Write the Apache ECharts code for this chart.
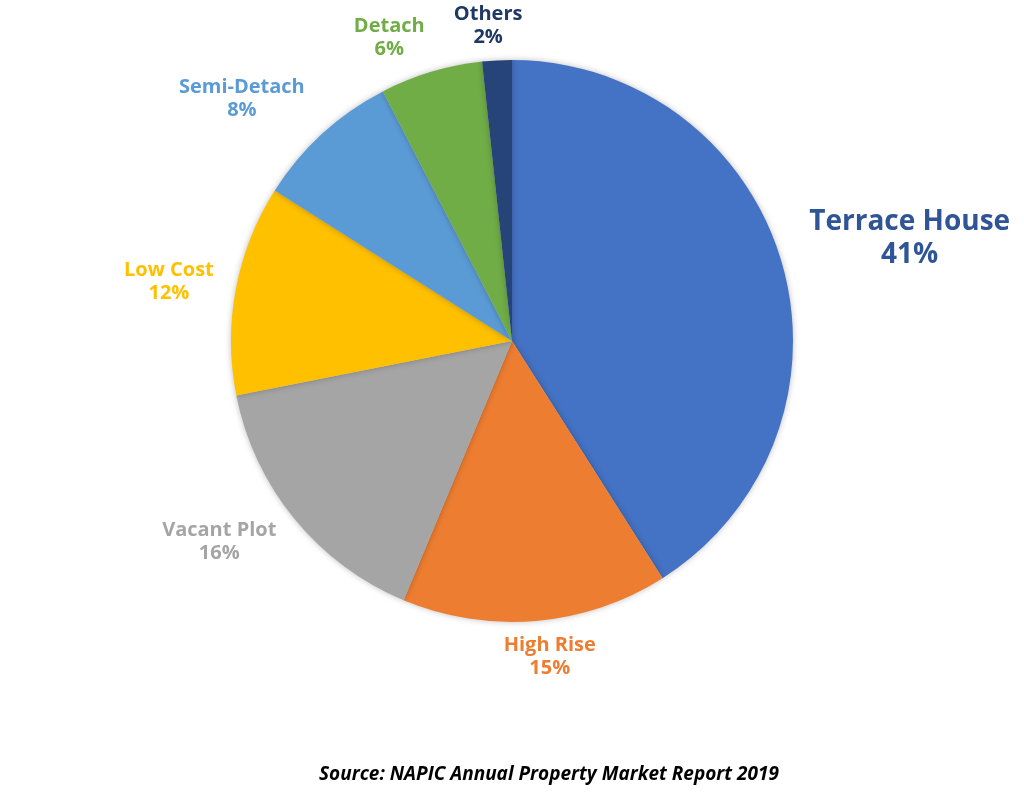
<!DOCTYPE html>
<html>
<head>
<meta charset="utf-8">
<script src="https://cdn.jsdelivr.net/npm/echarts@6/dist/echarts.min.js"></script>
<style>
html, body { margin: 0; padding: 0; background: #fff; }
#pie { width: 1024px; height: 798px; }
</style>
</head>
<body>
<div id="pie"></div>
<script>
var myChart = echarts.init(document.getElementById("pie"));

// shares of transactions (%), clockwise from 12 o'clock
var categories = ['Terrace House', 'High Rise', 'Vacant Plot', 'Low Cost', 'Semi-Detach', 'Detach', 'Others'];
var shares = [41.0, 15.3, 15.6, 12.1, 8.4, 5.9, 1.7];

var sliceColors = ['#4472C4', '#ED7D31', '#A5A5A5', '#FFC000', '#5B9BD5', '#70AD47', '#264478'];
var labelColors = ['#2F5597', '#ED7D31', '#A5A5A5', '#FFC000', '#5B9BD5', '#70AD47', '#203864'];
// how far each label sits out from the rim, and a small nudge after that
var labelGap = [130, 35, 75, 64, 82, 48, 35];
var labelShift = [[-2, 12], [6, 1], [-12, -24], [1, 4], [-20, 26], [-23, 12], [-2, 0]];

var pieData = [];
for (var i = 0; i < categories.length; i++) {
	var big = i == 0;
	pieData.push({
		name: categories[i],
		value: shares[i],
		itemStyle: { color: sliceColors[i] },
		label: {
			color: labelColors[i],
			fontSize: big ? 28 : 20,
			lineHeight: big ? 33 : 23
		},
		labelLine: { show: false, length: labelGap[i], length2: 0 }
	});
}

option = {
	backgroundColor: '#ffffff',
	animation: false,
	title: {
		text: 'Source: NAPIC Annual Property Market Report 2019',
		left: 314,
		top: 760,
		textStyle: {
			fontFamily: 'Open Sans',
			fontStyle: 'italic',
			fontWeight: 'bold',
			fontSize: 19,
			color: '#000'
		}
	},
	series: [{
		type: 'pie',
		center: [512, 341],
		radius: 281,
		startAngle: 90,
		clockwise: true,
		avoidLabelOverlap: false,
		itemStyle: {
			shadowBlur: 6,
			shadowColor: 'rgba(0,0,0,0.25)'
		},
		label: {
			show: true,
			position: 'outside',
			fontFamily: 'Open Sans',
			fontWeight: 'bold',
			formatter: function (p) {
				return p.name + '\n' + Math.round(p.value) + '%';
			}
		},
		labelLayout: function (params) {
			var s = labelShift[params.dataIndex];
			return { align: 'center', verticalAlign: 'middle', dx: s[0], dy: s[1] };
		},
		data: pieData
	}]
};

myChart.setOption(option);
</script>
</body>
</html>
